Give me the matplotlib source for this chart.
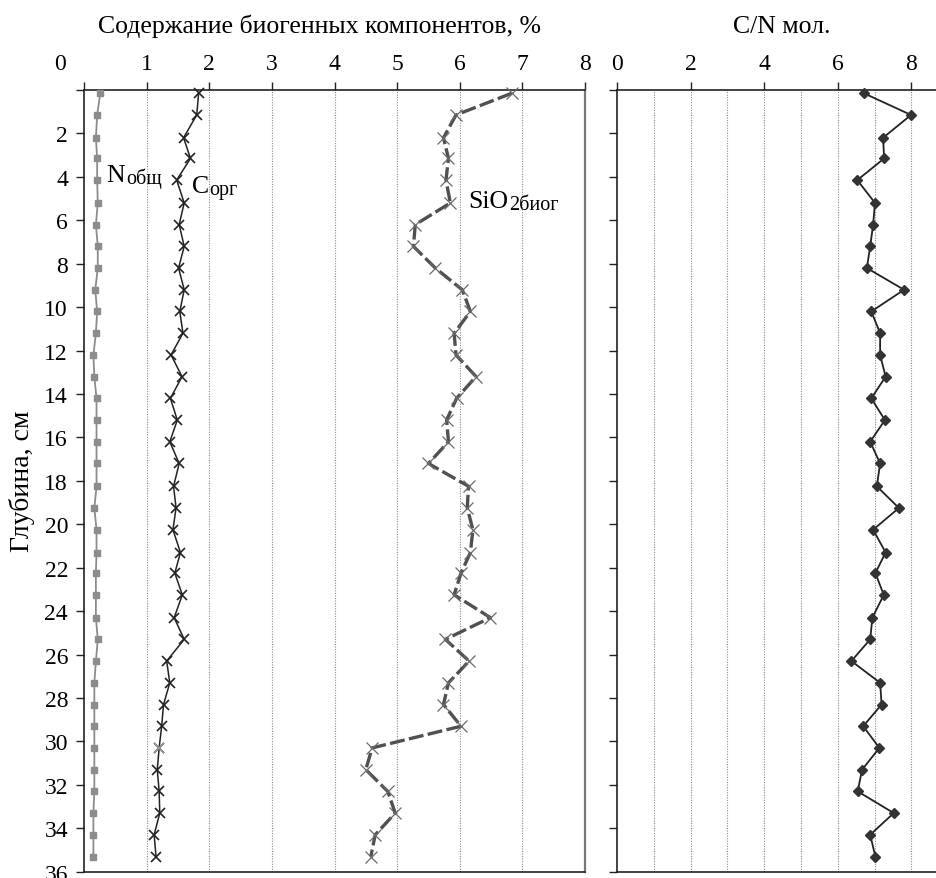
import numpy as np
import matplotlib
matplotlib.use("Agg")
import matplotlib.pyplot as plt

plt.rcParams['font.family'] = ['Liberation Serif', 'DejaVu Serif']

# глубина отбора, см
depth = [0.15, 1.15, 2.2, 3.15, 4.15, 5.2, 6.2, 7.2, 8.2, 9.2, 10.2, 11.2,
         12.2, 13.2, 14.2, 15.2, 16.2, 17.2, 18.25, 19.25, 20.25, 21.3, 22.25, 23.25,
         24.3, 25.3, 26.3, 27.3, 28.3, 29.3, 30.3, 31.3, 32.3, 33.3, 34.3, 35.3]

n_total = [0.26, 0.21, 0.19, 0.21, 0.21, 0.22, 0.19, 0.22, 0.22, 0.18, 0.21, 0.19,
           0.15, 0.165, 0.20, 0.20, 0.20, 0.20, 0.20, 0.165, 0.20, 0.20, 0.19, 0.19,
           0.19, 0.22, 0.19, 0.165, 0.165, 0.165, 0.165, 0.165, 0.165, 0.15, 0.15, 0.15]

c_org = [1.83, 1.80, 1.59, 1.70, 1.48, 1.60, 1.52, 1.60, 1.51, 1.60, 1.53, 1.58,
         1.39, 1.565, 1.38, 1.49, 1.37, 1.52, 1.43, 1.47, 1.42, 1.54, 1.45, 1.57,
         1.44, 1.60, 1.32, 1.37, 1.27, 1.24, 1.20, 1.17, 1.20, 1.21, 1.12, 1.15]

sio2 = [6.83, 5.94, 5.74, 5.82, 5.78, 5.85, 5.29, 5.26, 5.61, 6.04, 6.17, 5.91,
        5.94, 6.26, 5.95, 5.79, 5.82, 5.50, 6.14, 6.12, 6.21, 6.17, 6.02, 5.91,
        6.49, 5.77, 6.15, 5.82, 5.74, 6.02, 4.60, 4.50, 4.85, 4.97, 4.65, 4.58]

cn_ratio = [6.71, 7.99, 7.23, 7.26, 6.53, 7.01, 6.96, 6.88, 6.79, 7.80, 6.91, 7.15,
            7.15, 7.30, 6.91, 7.28, 6.88, 7.15, 7.06, 7.66, 6.96, 7.30, 7.02, 7.25,
            6.94, 6.88, 6.37, 7.15, 7.19, 6.69, 7.13, 6.66, 6.54, 7.52, 6.88, 7.02]

left_ticks = [0, 1, 2, 3, 4, 5, 6, 7, 8]
right_ticks = [0, 2, 4, 6, 8]
depth_ticks = list(range(0, 37, 2))

W, H = 936, 879
fig = plt.figure(figsize=(W / 100, H / 100), dpi=100)

top_px, bot_px = 91, 872.7
ax1 = fig.add_axes([84 / W, 1 - bot_px / H, (585 - 84) / W, (bot_px - top_px) / H])
ax2 = fig.add_axes([617 / W, 1 - bot_px / H, (W - 617) / W, (bot_px - top_px) / H])

grid_kw = dict(color='#8a8a8a', lw=0.8, ls=(0, (1, 1.3)), zorder=0)
tick_len, xpad = 6, 5.5

for ax in (ax1, ax2):
    ax.set_ylim(36, 0)
    ax.xaxis.tick_top()
    ax.set_yticks(depth_ticks)
    ax.tick_params(axis='both', direction='out', length=tick_len, width=1.0, color='#222222')
    ax.tick_params(axis='x', pad=xpad, labelsize=17)
    ax.tick_params(axis='y', pad=5.5, labelsize=17)
    for s in ax.spines.values():
        s.set_linewidth(1.2)
        s.set_color('#222222')

# левая панель
ax1.set_xlim(0, 8)
ax1.set_xticks(left_ticks)
ax1.set_xticklabels([''] + [str(t) for t in left_ticks[1:]])
ax1.set_yticklabels([''] + [str(t) for t in depth_ticks[1:]])
for v in left_ticks[1:-1]:
    ax1.axvline(v, **grid_kw)
ax1.spines['right'].set_color('#777777')
ax1.spines['right'].set_linewidth(1.6)
# подпись "0" сдвинута влево от своего штриха
ax1.annotate('0', xy=(0, 1), xycoords=('data', 'axes fraction'),
             xytext=(-17.5, tick_len + xpad), textcoords='offset points',
             fontsize=17, ha='center', va='bottom', annotation_clip=False)

ax1.plot(n_total, depth, '-', color='#8c8c8c', lw=1.3, marker='s', ms=4.5,
         mfc='#8c8c8c', mec='#8c8c8c', zorder=3, clip_on=False)
ax1.plot(c_org, depth, '-', color='#222222', lw=1.1, marker='x', ms=7.5, mew=1.2,
         zorder=3, clip_on=False)
ax1.plot(c_org[30], depth[30], 'x', color='#9a9a9a', ms=7.5, mew=1.2, zorder=4)
ax1.plot(sio2, depth, color='#505050', lw=2.4, dashes=(4.5, 1.3), marker='x', ms=8,
         mew=0.9, mec='#6a6a6a', zorder=3, clip_on=False)


def sub_label(ax, x, y, main, sub):
    t = ax.text(x, y, main, fontsize=18.5, va='baseline', ha='left')
    ax.annotate(sub, xy=(1, 0), xycoords=t, xytext=(0.5, -1.5),
                textcoords='offset points', fontsize=14.5, va='bottom', ha='left')


sub_label(ax1, 0.36, 4.18, 'N', 'общ')
sub_label(ax1, 1.72, 4.71, 'C', 'орг')
sub_label(ax1, 6.14, 5.38, 'SiO', '2биог')

# правая панель
ax2.set_xlim(0, (W - 617) / 36.8)
ax2.set_xticks(right_ticks)
ax2.set_yticklabels([])
ax2.spines['right'].set_visible(False)
for v in range(1, 9):
    ax2.axvline(v, **grid_kw)
ax2.plot(cn_ratio, depth, '-', color='#222222', lw=1.3, marker='D', ms=5,
         mfc='#333333', mec='#333333', zorder=3, clip_on=False)

fig.text(320 / W, 1 - 33.3 / H, 'Содержание биогенных компонентов, %', fontsize=18.5,
         ha='center', va='baseline')
fig.text(782 / W, 1 - 33.3 / H, 'C/N мол.', fontsize=18.5, ha='center', va='baseline')
fig.text(22 / W, 1 - 481.5 / H, 'Глубина, см', fontsize=20, rotation=90,
         ha='center', va='center')

fig.savefig('out.png', dpi=100)
